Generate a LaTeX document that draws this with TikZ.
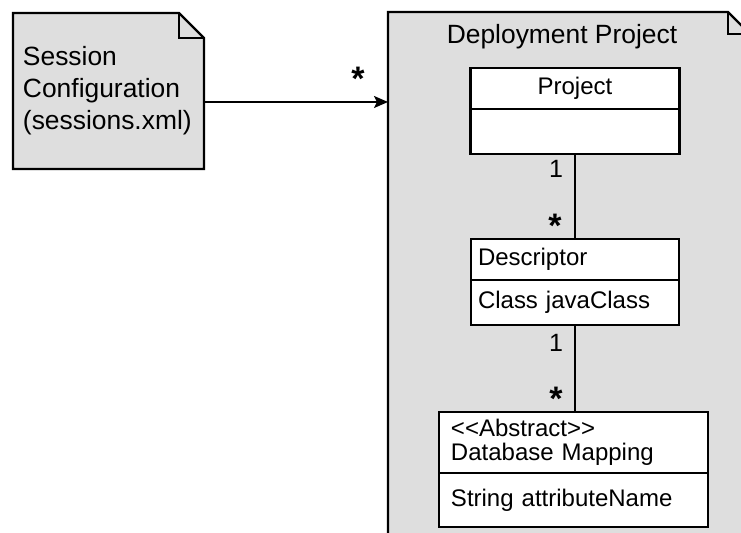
\documentclass[tikz,border=0pt]{standalone}
\usepackage{fontspec}
\setmainfont{Liberation Sans}
\usetikzlibrary{positioning,backgrounds,arrows.meta}
\definecolor{notegray}{gray}{0.87}

\tikzset{
  notebox/.style={draw, fill=notegray, line width=1.2pt, line join=miter},
  notetext/.style={inner xsep=5pt, inner ysep=0pt, outer sep=0pt, align=left,
    font=\fontsize{13.2}{16}\selectfont},
  classbox/.style={draw, fill=white, line width=1.2pt, outer sep=0pt,
    font=\fontsize{12}{12}\selectfont},
  assoc/.style={line width=1pt},
  flow/.style={line width=1pt, -{Stealth[length=7pt, width=6pt, inset=1.5pt]}},
  mult/.style={inner sep=0pt, anchor=base, font=\fontsize{12.5}{12.5}\selectfont},
  many/.style={inner sep=0pt, anchor=base, font=\fontsize{17}{17}\selectfont\bfseries}
}

\begin{document}
\begin{tikzpicture}[x=0.5pt, y=-0.5pt]%
  \useasboundingbox (0,0) rectangle (741,533);%
  % notes
  \node[notetext, text width=85.5pt, minimum height=78pt] (session) at (108.5,91)
    {Session\\Configuration\\(sessions.xml)};
  \node[inner sep=0pt, outer sep=0pt, minimum width=181pt, minimum height=274pt,
    anchor=north west] (deploy) at (388,12) {};
  \node[notetext, anchor=center] (deploytitle) at (562,37) {Deployment Project};
  % classes
  \node[classbox, minimum width=104.5pt, minimum height=20.5pt] (project) at (575,88.5) {Project};
  \node[classbox, minimum width=104.5pt, minimum height=22.5pt, below=0pt of project] (projectbody) {};
  \node[classbox, text width=97pt, inner xsep=3.5pt, minimum height=20.5pt] (descriptor) at (575,259.5) {Descriptor};
  \node[classbox, text width=97pt, inner xsep=3.5pt, minimum height=22.5pt, below=0pt of descriptor] (descriptorbody) {Class javaClass};
  \node[classbox, text width=122.5pt, inner xsep=6pt, minimum height=30.5pt] (mapping) at (573.5,442.5)
    {{<}{<}Abstract{>}{>}\\Database Mapping};
  \node[classbox, text width=122.5pt, inner xsep=6pt, minimum height=27pt, below=0pt of mapping] (mappingbody) {String attributeName};
  % connectors
  \draw[flow] ([yshift=-5.5pt]session.east) -- ([yshift=-5.5pt]session.east -| deploy.west)
    node[many, pos=1, xshift=-15pt, yshift=5.5pt] {*};
  \draw[assoc] (projectbody.south) -- (projectbody.south |- descriptor.north)
    node[mult, pos=0, xshift=-9.5pt, yshift=-12pt] {1}
    node[many, pos=1, xshift=-10pt, yshift=0.7pt] {*};
  \draw[assoc] (descriptorbody.south) -- (descriptorbody.south |- mapping.north)
    node[mult, pos=0, xshift=-9.5pt, yshift=-13.5pt] {1}
    node[many, pos=1, xshift=-9.5pt, yshift=0.5pt] {*};
  % outlines with folded corner
  \begin{scope}[on background layer]
    \clip (0,0) rectangle (741,533);
    \filldraw[notebox] (session.south west) -- (session.north west) -- ([xshift=-12.5pt]session.north east)
      -- ([yshift=-12.5pt]session.north east) -- (session.south east) -- cycle;
    \draw[notebox, fill=none] ([xshift=-12.5pt]session.north east) |- ([yshift=-12.5pt]session.north east);
    \filldraw[notebox] (deploy.south west) -- (deploy.north west) -- ([xshift=-11pt]deploy.north east)
      -- ([yshift=-11pt]deploy.north east) -- (deploy.south east) -- cycle;
    \draw[notebox, fill=none] ([xshift=-11pt]deploy.north east) |- ([yshift=-11pt]deploy.north east);
  \end{scope}
\end{tikzpicture}
\end{document}
